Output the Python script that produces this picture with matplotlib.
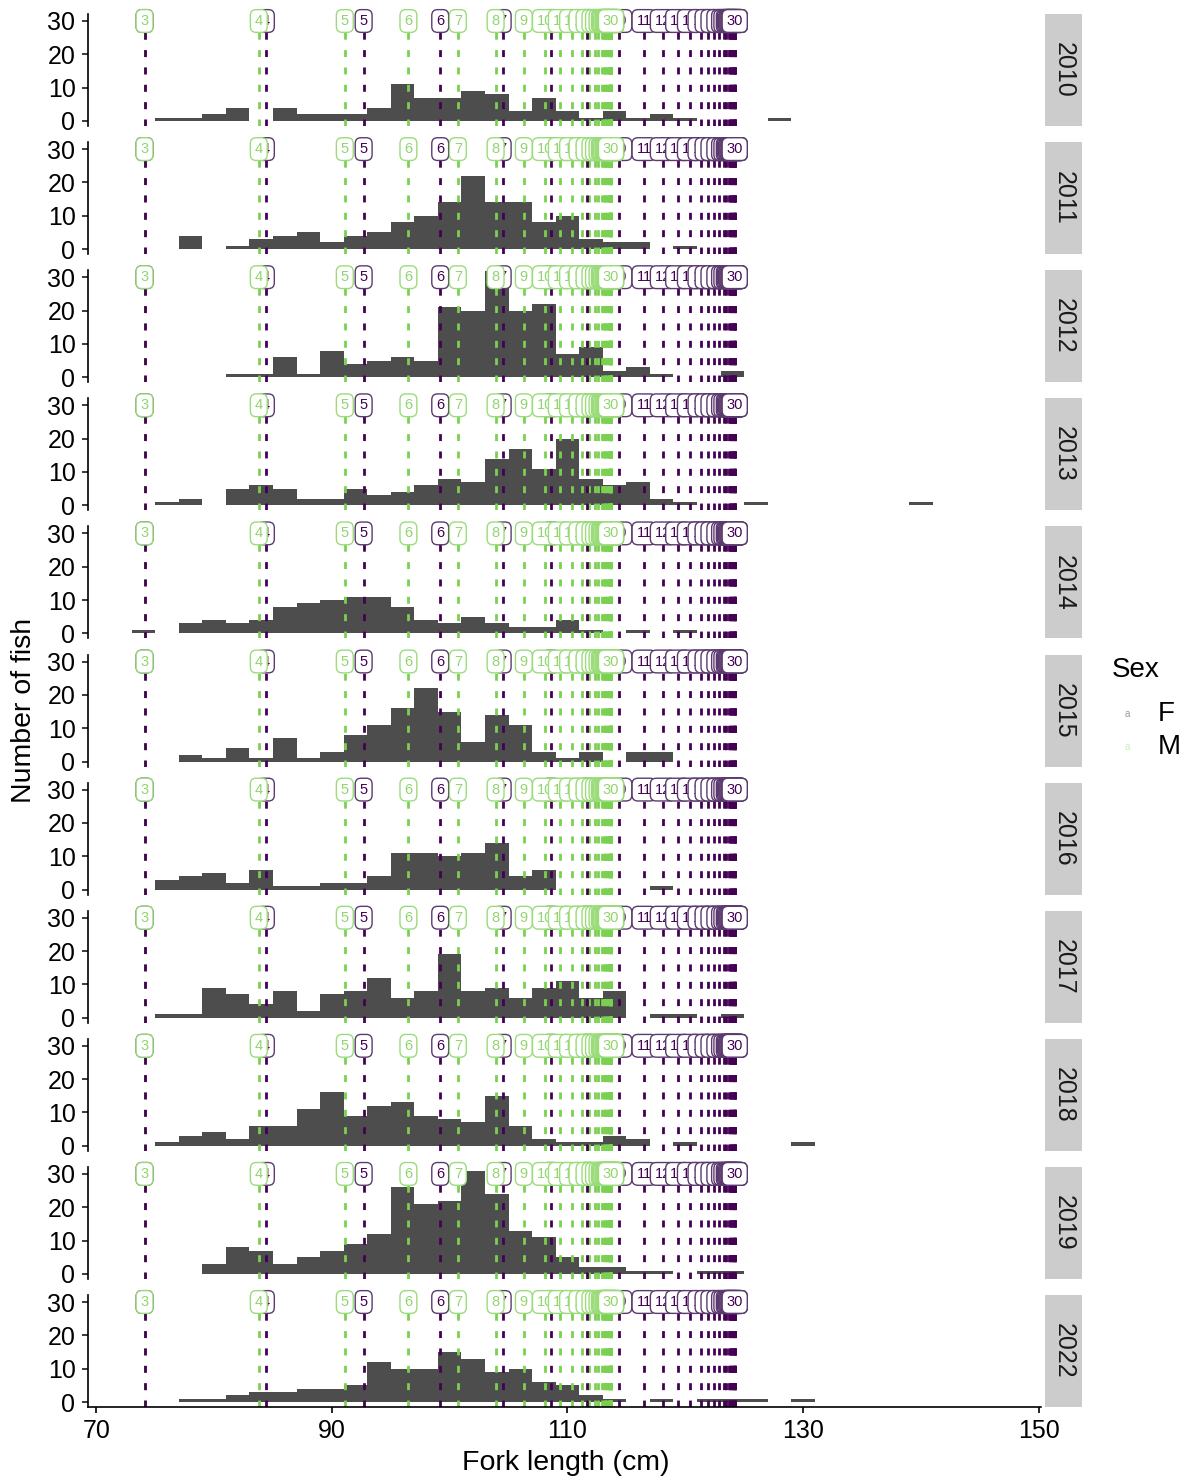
import numpy as np
import matplotlib
matplotlib.use("Agg")
import matplotlib.pyplot as plt
from matplotlib.patches import Rectangle

plt.rcParams['font.family'] = ['Liberation Sans', 'DejaVu Sans']
plt.rcParams['lines.scale_dashes'] = False

# histogram bins: 2 cm wide, left edges 73, 75, ..., 139
bin_left = np.arange(73, 141, 2)

# counts per bin (bins 73-75 ... 139-141)
n2010 = [0, 1, 1, 2, 4, 0, 4, 2, 2, 2, 4, 11, 7, 7, 9, 8, 3, 7, 3, 1, 3, 1, 2, 1, 0, 0, 0, 1, 0, 0, 0, 0, 0, 0]
n2011 = [0, 0, 4, 0, 1, 3, 4, 5, 2, 4, 5, 8, 10, 14, 22, 14, 14, 8, 10, 3, 2, 2, 0, 1, 0, 0, 0, 0, 0, 0, 0, 0, 0, 0]
n2012 = [0, 0, 0, 0, 1, 1, 6, 1, 8, 4, 5, 6, 5, 21, 20, 32, 20, 22, 7, 9, 2, 3, 1, 0, 0, 2, 0, 0, 0, 0, 0, 0, 0, 0]
n2013 = [0, 1, 2, 0, 5, 6, 5, 2, 2, 5, 3, 4, 6, 8, 7, 14, 17, 11, 20, 8, 6, 7, 2, 1, 0, 0, 1, 0, 0, 0, 0, 0, 0, 1]
n2014 = [1, 0, 3, 4, 3, 4, 8, 9, 10, 11, 11, 8, 4, 3, 5, 3, 2, 2, 4, 1, 0, 1, 0, 1, 0, 0, 0, 0, 0, 0, 0, 0, 0, 0]
n2015 = [0, 0, 2, 1, 4, 1, 7, 1, 3, 8, 11, 16, 22, 15, 6, 14, 11, 3, 1, 3, 0, 3, 3, 0, 0, 0, 0, 0, 0, 0, 0, 0, 0, 0]
n2016 = [0, 3, 4, 5, 2, 6, 1, 1, 2, 2, 4, 11, 11, 10, 11, 14, 4, 6, 0, 0, 0, 0, 1, 0, 0, 0, 0, 0, 0, 0, 0, 0, 0, 0]
n2017 = [0, 1, 1, 9, 7, 4, 8, 2, 7, 8, 12, 6, 8, 19, 8, 9, 6, 9, 11, 6, 8, 0, 1, 1, 0, 1, 0, 0, 0, 0, 0, 0, 0, 0]
n2018 = [0, 1, 3, 4, 2, 6, 6, 11, 16, 9, 12, 13, 9, 8, 7, 15, 6, 2, 1, 1, 3, 2, 0, 1, 0, 0, 0, 0, 1, 0, 0, 0, 0, 0]
n2019 = [0, 0, 0, 3, 8, 7, 3, 5, 7, 9, 12, 26, 21, 22, 31, 24, 13, 11, 5, 2, 2, 1, 1, 0, 1, 1, 0, 0, 0, 0, 0, 0, 0, 0]
n2022 = [0, 0, 1, 1, 2, 3, 3, 4, 4, 5, 12, 10, 10, 15, 13, 9, 10, 6, 5, 2, 1, 0, 1, 0, 1, 1, 1, 0, 1, 0, 0, 0, 0, 0]

years = ["2010", "2011", "2012", "2013", "2014", "2015", "2016", "2017", "2018", "2019", "2022"]
counts = [n2010, n2011, n2012, n2013, n2014, n2015, n2016, n2017, n2018, n2019, n2022]

# mean length at age (cm), ages 3..30
ages = list(range(3, 31))
len_F = [74.1, 84.4, 92.7, 99.2, 104.5, 108.6, 111.7, 114.4, 116.5, 118.1, 119.4, 120.4, 121.3, 121.9,
         122.4, 122.9, 123.3, 123.5, 123.7, 123.8, 123.9, 124.0, 124.0, 124.1, 124.1, 124.2, 124.2, 124.2]
len_M = [74.1, 83.8, 91.1, 96.5, 100.7, 103.9, 106.3, 108.1, 109.4, 110.4, 111.2, 111.8, 112.3, 112.6,
         112.9, 113.1, 113.2, 113.3, 113.4, 113.5, 113.5, 113.6, 113.6, 113.6, 113.7, 113.7, 113.7, 113.7]

col_F = "#440154"
col_M = "#7AD151"
bar_col = "#4d4d4d"

W, H = 1189, 1481
fig = plt.figure(figsize=(W / 100, H / 100), dpi=100)

ppu = 100 / 30.0  # pixels per count
for i, (yr, cnt) in enumerate(zip(years, counts)):
    zero = 121 + i * 128.1
    top = zero - 32.1 * ppu
    ax = fig.add_axes([88 / W, 1 - (top + 33.6 * ppu) / H, (1041 - 88) / W, 33.6 * ppu / H])
    ax.bar(bin_left, cnt, width=2, align='edge', color=bar_col, linewidth=0, zorder=1)
    ax.set_xlim(69.3, 150.2)
    ax.set_ylim(-1.5, 32.1)

    # male lines first, female on top
    for x in len_M:
        ax.axvline(x, color=col_M, lw=2.0, dashes=(5, 7.5), zorder=2)
    for x in len_F:
        ax.axvline(x, color=col_F, lw=2.0, dashes=(5, 7.5), zorder=2)

    for sex_len, c, tc in [(len_F, "#5b3a6e", col_F), (len_M, "#9bdc7a", "#8fd66c")]:
        for a, x in zip(ages, sex_len):
            ax.text(x, 30, str(a), ha='center', va='center', fontsize=10.5, color=tc,
                    bbox=dict(boxstyle='round,pad=0.3,rounding_size=0.4', fc='white', ec=c, lw=1.0),
                    clip_on=False, zorder=3)

    for s in ['top', 'right']:
        ax.spines[s].set_visible(False)
    ax.spines['left'].set_linewidth(1.2)
    ax.set_yticks([0, 10, 20, 30])
    ax.tick_params(axis='y', labelsize=18, length=4, width=1.2, pad=5, colors='#1a1a1a')
    ax.tick_params(axis='y', labelcolor='black')
    if i < len(years) - 1:
        ax.spines['bottom'].set_visible(False)
        ax.set_xticks([])
    else:
        ax.spines['bottom'].set_linewidth(1.2)
        ax.set_xticks([70, 90, 110, 130, 150])
        ax.tick_params(axis='x', labelsize=18, length=4, width=1.2, pad=5)

    # facet strip
    fig.patches.append(Rectangle((1045 / W, 1 - (top + 33.6 * ppu) / H), 37 / W, 33.6 * ppu / H,
                                 transform=fig.transFigure, facecolor='#cccccc', edgecolor='none'))
    fig.text(1063.5 / W, 1 - (top + 16.8 * ppu) / H, yr, rotation=-90, ha='center', va='center',
             fontsize=18, color='#1a1a1a')

fig.text(566 / W, 1 - 1463 / H, "Fork length (cm)", ha='center', va='center', fontsize=20.5)
fig.text(24 / W, 1 - 710 / H, "Number of fish", rotation=90, ha='center', va='center', fontsize=20.5)

# legend
fig.text(1112 / W, 1 - 670 / H, "Sex", ha='left', va='center', fontsize=20)
fig.text(1127 / W, 1 - 714 / H, "a", ha='center', va='center', fontsize=7, color='#555555', alpha=0.6)
fig.text(1127 / W, 1 - 747 / H, "a", ha='center', va='center', fontsize=7, color=col_M, alpha=0.4)
fig.text(1158 / W, 1 - 714 / H, "F", ha='left', va='center', fontsize=20)
fig.text(1158 / W, 1 - 747 / H, "M", ha='left', va='center', fontsize=20)

fig.savefig("out.png", dpi=100)
